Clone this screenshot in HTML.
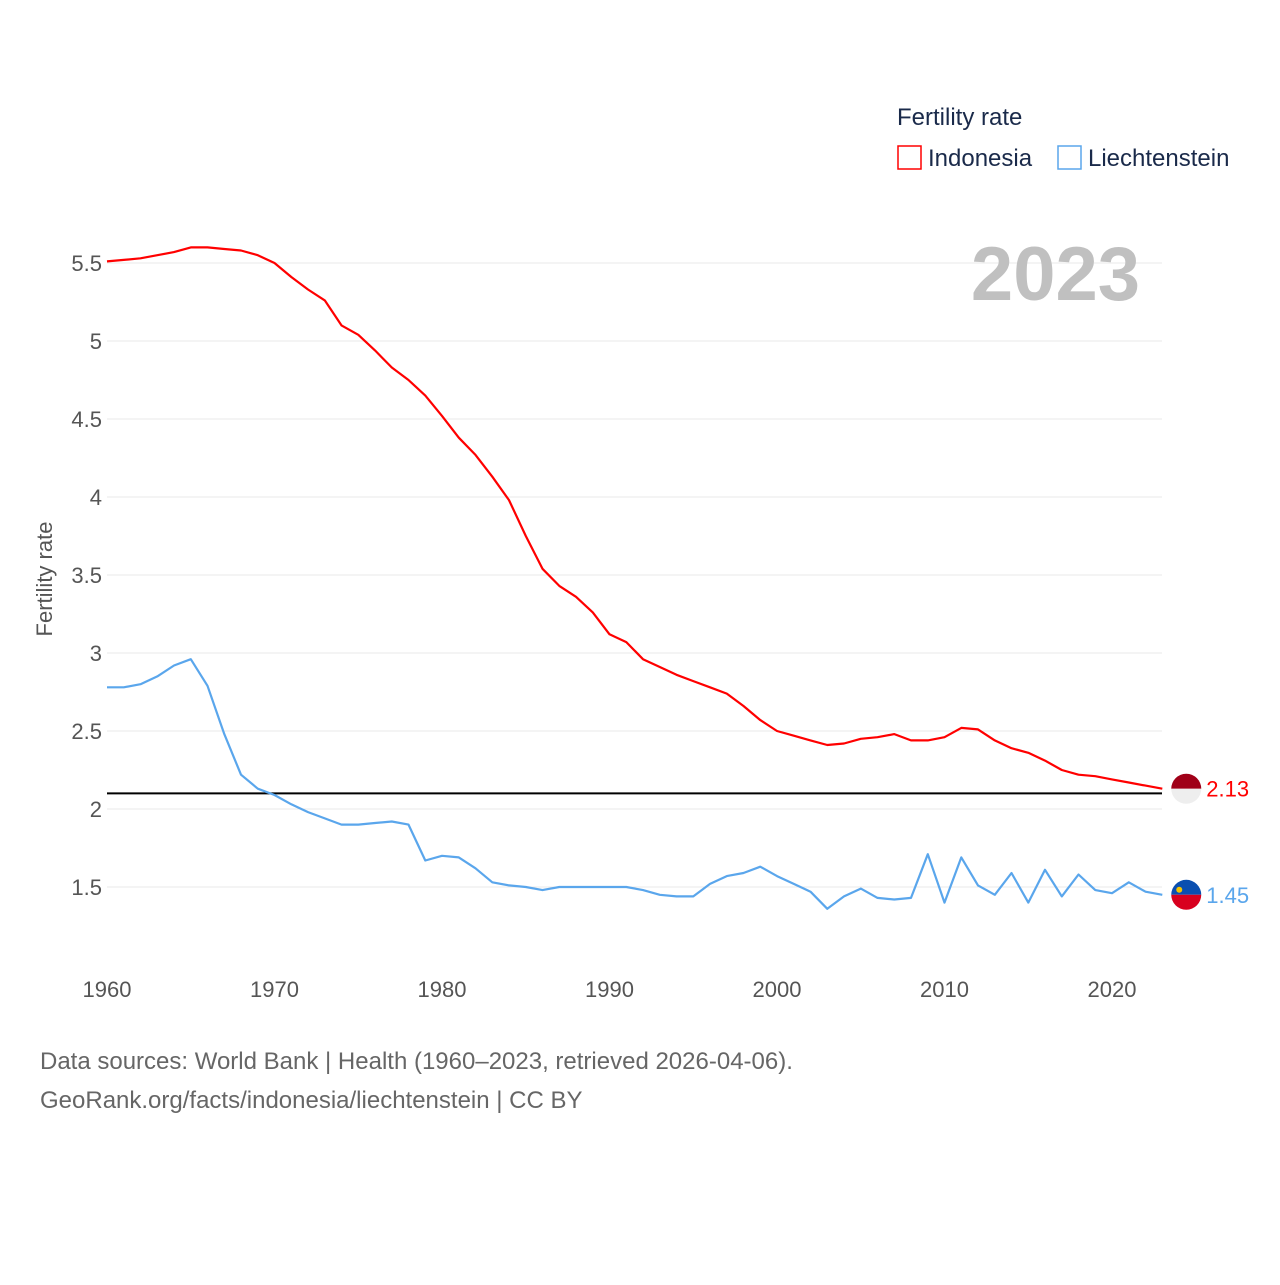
<!DOCTYPE html>
<html><head><meta charset="utf-8"><style>
body{margin:0;background:#fff;width:1280px;height:1280px;overflow:hidden;font-family:"Liberation Sans",sans-serif}
</style></head><body>
<svg width="1280" height="1280" style="font-family:'Liberation Sans',sans-serif">
<g id="grid"></g>
<g id="yt"></g>
<g id="xt"></g>
<text x="52" y="579" transform="rotate(-90 52 579)" text-anchor="middle" font-size="22" fill="#555">Fertility rate</text>
<text x="1140" y="300" text-anchor="end" font-size="76" font-weight="bold" fill="#c0c0c0">2023</text>
<text x="897" y="125" font-size="24" fill="#1a2a4a">Fertility rate</text>
<rect x="898" y="146" width="23" height="23" fill="none" stroke="#f00" stroke-width="1.5"/>
<text x="928" y="166" font-size="24" fill="#1a2a4a">Indonesia</text>
<rect x="1058" y="146" width="23" height="23" fill="none" stroke="#5aa6ec" stroke-width="1.5"/>
<text x="1088" y="166" font-size="24" fill="#1a2a4a">Liechtenstein</text>
<g id="series"></g>
<text x="40" y="1069" font-size="24" fill="#666">Data sources: World Bank | Health (1960–2023, retrieved 2026-04-06).</text>
<text x="40" y="1108" font-size="24" fill="#666">GeoRank.org/facts/indonesia/liechtenstein | CC BY</text>
</svg>
<script>
const years=[];for(let y=1960;y<=2023;y++)years.push(y);
const indonesia=[5.51,5.52,5.53,5.55,5.57,5.60,5.60,5.59,5.58,5.55,5.50,5.41,5.33,5.26,5.10,5.04,4.94,4.83,4.75,4.65,4.52,4.38,4.27,4.13,3.98,3.75,3.54,3.43,3.36,3.26,3.12,3.07,2.96,2.91,2.86,2.82,2.78,2.74,2.66,2.57,2.50,2.47,2.44,2.41,2.42,2.45,2.46,2.48,2.44,2.44,2.46,2.52,2.51,2.44,2.39,2.36,2.31,2.25,2.22,2.21,2.19,2.17,2.15,2.13];
const liechtenstein=[2.78,2.78,2.80,2.85,2.92,2.96,2.79,2.48,2.22,2.13,2.09,2.03,1.98,1.94,1.90,1.90,1.91,1.92,1.90,1.67,1.70,1.69,1.62,1.53,1.51,1.50,1.48,1.50,1.50,1.50,1.50,1.50,1.48,1.45,1.44,1.44,1.52,1.57,1.59,1.63,1.57,1.52,1.47,1.36,1.44,1.49,1.43,1.42,1.43,1.71,1.40,1.69,1.51,1.45,1.59,1.40,1.61,1.44,1.58,1.48,1.46,1.53,1.47,1.45];
const yTicks=[1.5,2,2.5,3,3.5,4,4.5,5,5.5];
const xTicks=[1960,1970,1980,1990,2000,2010,2020];
const refLine=2.1;
const X=y=>107+(y-1960)*16.75;
const Y=v=>887-(v-1.5)*156;
const NS="http://www.w3.org/2000/svg";
function mk(t,a,p){const e=document.createElementNS(NS,t);for(const k in a)e.setAttribute(k,a[k]);p.appendChild(e);return e;}
const grid=document.getElementById('grid'),yt=document.getElementById('yt'),xt=document.getElementById('xt'),ser=document.getElementById('series');
yTicks.forEach(v=>{
 const l=mk('line',{x1:107,x2:1162,y1:Y(v),y2:Y(v),stroke:'#e8e8e8','stroke-width':1},grid);
 
 
 const t=mk('text',{x:102,y:Y(v)+8,'text-anchor':'end','font-size':22,fill:'#555'},yt);t.textContent=String(v);
 
 
});
xTicks.forEach(v=>{
 const t=mk('text',{x:X(v),y:997,'text-anchor':'middle','font-size':22,fill:'#555'},xt);t.textContent=String(v);
 
 
});
const rl=mk('line',{x1:107,x2:1162,y1:Y(refLine),y2:Y(refLine),stroke:'#000','stroke-width':2},ser);


function line(data,color,name){
 const d=data.map((v,i)=>(i?'L':'M')+X(years[i]).toFixed(1)+','+Y(v).toFixed(1)).join('');
 const p=mk('path',{d:d,fill:'none',stroke:color,'stroke-width':2.2,'stroke-linejoin':'round'},ser);
 
 
}
line(indonesia,'#f00','indonesia-line');
line(liechtenstein,'#5aa6ec','liechtenstein-line');
// end markers
const li=indonesia.length-1, xe=X(years[li])+24;
const yi=Y(indonesia[li]), yl=Y(liechtenstein[li]);
const g1=mk('g',{},ser);


mk('path',{d:`M${xe-15},${yi}A15,15 0 0 1 ${xe+15},${yi}Z`,fill:'#a00018'},g1);
mk('path',{d:`M${xe-15},${yi}A15,15 0 0 0 ${xe+15},${yi}Z`,fill:'#eee'},g1);
const t1=mk('text',{x:xe+20,y:yi+8,'font-size':22,fill:'#f00'},ser);t1.textContent=indonesia[li].toFixed(2);


const g2=mk('g',{},ser);


mk('path',{d:`M${xe-15},${yl}A15,15 0 0 1 ${xe+15},${yl}Z`,fill:'#0a4fb0'},g2);
mk('path',{d:`M${xe-15},${yl}A15,15 0 0 0 ${xe+15},${yl}Z`,fill:'#d8001e'},g2);
mk('circle',{cx:xe-7,cy:yl-5,r:3,fill:'#f5c400'},g2);
const t2=mk('text',{x:xe+20,y:yl+8,'font-size':22,fill:'#5aa6ec'},ser);t2.textContent=liechtenstein[li].toFixed(2);


</script>
</body></html>
